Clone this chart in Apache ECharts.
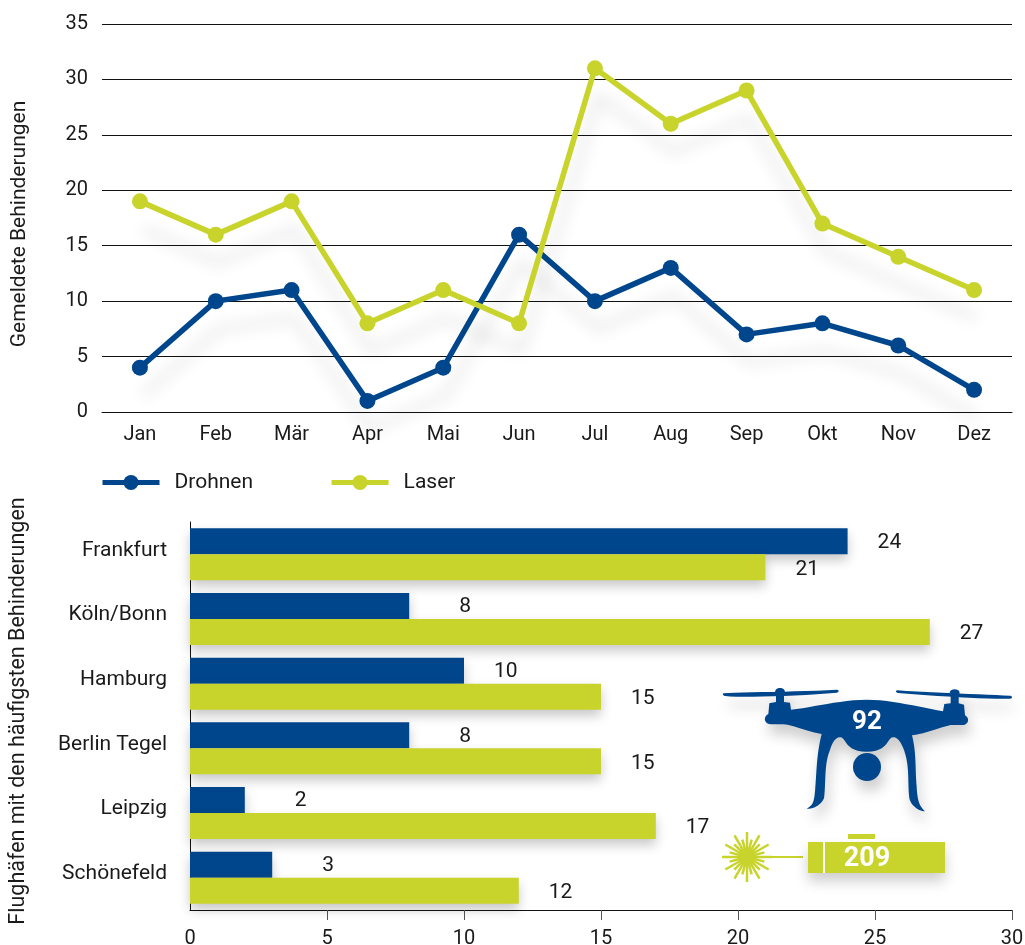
<!DOCTYPE html>
<html>
<head>
<meta charset="utf-8">
<title>Behinderungen</title>
<style>
  html, body { margin: 0; padding: 0; background: #fff; }
  #main { width: 1025px; height: 945px; }
</style>
<script src="https://cdn.jsdelivr.net/npm/echarts@6/dist/echarts.min.js"></script>
</head>
<body>
<div id="main"></div>
<script>
var months = ['Jan', 'Feb', 'Mär', 'Apr', 'Mai', 'Jun', 'Jul', 'Aug', 'Sep', 'Okt', 'Nov', 'Dez'];
var drohnenMonat = [4, 10, 11, 1, 4, 16, 10, 13, 7, 8, 6, 2];
var laserMonat = [19, 16, 19, 8, 11, 8, 31, 26, 29, 17, 14, 11];

var airports = ['Frankfurt', 'Köln/Bonn', 'Hamburg', 'Berlin Tegel', 'Leipzig', 'Schönefeld'];
var drohnenAirport = [24, 8, 10, 8, 2, 3];
var laserAirport = [21, 27, 15, 15, 17, 12];
var airportTicks = [5, 10, 15, 20, 25, 30];

var BLUE = '#00468c';
var GREEN = '#c8d42c';
var FONT = 'Roboto';
var TEXT = '#1a1a1a';

function sum(list) {
  return list.reduce(function (a, b) { return a + b; }, 0);
}

function lineSeries(name, values, color) {
  return {
    name: name,
    type: 'line',
    xAxisIndex: 0,
    yAxisIndex: 0,
    data: values,
    symbol: 'circle',
    symbolSize: 16,
    clip: false,
    itemStyle: { color: color },
    lineStyle: {
      color: color,
      width: 5.5,
      shadowColor: 'rgba(0,0,0,0.12)',
      shadowBlur: 16,
      shadowOffsetX: 3,
      shadowOffsetY: 28
    }
  };
}

function barSeries(name, values, color, labelShift) {
  return {
    name: name,
    type: 'bar',
    xAxisIndex: 1,
    yAxisIndex: 1,
    barGap: 0,
    barCategoryGap: '19.6%',
    // einstellige Werte stehen im Original weiter vom Balken weg
    data: values.map(function (v) {
      return { value: v, label: { distance: v < 10 ? 50 : 30 } };
    }),
    itemStyle: {
      color: color,
      shadowColor: 'rgba(0,0,0,0.22)',
      shadowBlur: 12,
      shadowOffsetX: 0,
      shadowOffsetY: 6
    },
    label: {
      show: true,
      position: 'right',
      offset: [0, labelShift],
      fontFamily: FONT,
      fontSize: 21,
      color: TEXT
    }
  };
}

// Laser-Strahlenkranz, Winkelschritt 15 Grad, abwechselnd lang und kurz
function laserRays(cx, cy) {
  var rays = [];
  for (var i = 0; i < 24; i++) {
    var a = i * Math.PI / 12;
    var r = i % 2 ? 18 : 25;
    rays.push({
      type: 'line',
      shape: {
        x1: cx + Math.cos(a) * 5,
        y1: cy + Math.sin(a) * 5,
        x2: cx + Math.cos(a) * r,
        y2: cy + Math.sin(a) * r
      },
      style: { stroke: GREEN, lineWidth: 2.5 }
    });
  }
  rays.push({
    type: 'circle',
    shape: { cx: cx, cy: cy, r: 9 },
    style: { fill: GREEN }
  });
  return rays;
}

var droneBody = 'M208 100 L228 96 L228 72 C222 66 226 54 240 54 C254 54 258 66 252 72 L252 96 L270 98 L273 119 ' +
  'C340 112 420 90 500 89 C580 90 660 112 729 124 L733 102 L752 100 L752 74 C746 68 750 58 764 58 C778 58 782 68 776 74 ' +
  'L776 100 L792 104 L795 136 C808 142 808 162 790 165 L752 165 C720 172 680 190 636 196 ' +
  'C650 250 645 300 650 350 C652 395 660 410 675 424 C655 424 632 405 628 385 C622 340 630 290 612 240 ' +
  'C605 222 595 200 578 202 C560 205 565 245 500 245 C435 245 440 205 422 202 C405 200 395 222 390 240 ' +
  'C372 280 378 340 372 385 C365 400 345 418 320 416 C340 405 343 395 346 350 C350 300 350 250 365 192 ' +
  'C320 185 280 165 250 163 L212 163 C190 160 190 140 205 132 Z';
var propLeft = 'M70 70 C120 66 300 66 410 59 C418 60 418 66 410 68 C300 78 120 84 76 78 C68 77 67 72 70 70 Z';
var propRight = 'M592 61 C700 68 860 74 930 77 C938 79 938 85 930 86 C860 88 700 78 594 69 C586 67 586 62 592 61 Z';

// graphic kennt keinen path-Typ, daher Kurven zu Polygon aufloesen (Vorlage im Massstab 3:1)
function outline(d) {
  var nums = d.match(/[MLCZ]|-?[\d.]+/g), pts = [], i = 0, cmd;
  while (i < nums.length) {
    cmd = nums[i++];
    if (cmd === 'M' || cmd === 'L') {
      pts.push([+nums[i], +nums[i + 1]]);
      i += 2;
    } else if (cmd === 'C') {
      var p0 = pts[pts.length - 1];
      var c = nums.slice(i, i + 6).map(Number);
      i += 6;
      for (var s = 1; s <= 12; s++) {
        var t = s / 12, u = 1 - t;
        pts.push([
          u * u * u * p0[0] + 3 * u * u * t * c[0] + 3 * u * t * t * c[2] + t * t * t * c[4],
          u * u * u * p0[1] + 3 * u * u * t * c[1] + 3 * u * t * t * c[3] + t * t * t * c[5]
        ]);
      }
    }
  }
  return pts.map(function (p) { return [700 + p[0] / 3, 670 + p[1] / 3]; });
}

var droneShadow = {
  shadowColor: 'rgba(0,0,0,0.2)',
  shadowBlur: 14,
  shadowOffsetX: 3,
  shadowOffsetY: 10
};

function iconShape(d) {
  return {
    type: 'polygon',
    shape: { points: outline(d) },
    style: Object.assign({ fill: BLUE }, droneShadow)
  };
}

var option = {
  animation: false,
  backgroundColor: '#fff',
  textStyle: { fontFamily: FONT, color: TEXT },
  legend: {
    left: 100,
    top: 472,
    padding: 0,
    itemWidth: 57,
    itemHeight: 19,
    itemGap: 76,
    data: ['Drohnen', 'Laser'],
    lineStyle: { width: 5 },
    textStyle: { fontFamily: FONT, fontSize: 21, color: TEXT, padding: [0, 0, 0, 10] }
  },
  grid: [
    { left: 102, right: 13, top: 24, height: 388, outerBoundsMode: 'none' },
    { left: 190, right: 13, top: 522, height: 388, outerBoundsMode: 'none' }
  ],
  xAxis: [
    {
      gridIndex: 0,
      type: 'category',
      data: months,
      axisLine: { lineStyle: { color: '#111', width: 1 } },
      axisTick: {
        length: 10,
        interval: function (i) { return i > 0; },
        lineStyle: { color: '#555' }
      },
      axisLabel: { fontFamily: FONT, fontSize: 20, color: TEXT, margin: 13 }
    },
    {
      gridIndex: 1,
      type: 'value',
      min: 0,
      max: 30,
      interval: 5,
      splitLine: { show: false },
      axisLine: { show: true, onZero: false, lineStyle: { color: '#111', width: 1 } },
      axisTick: { show: true, length: 10, customValues: airportTicks, lineStyle: { color: '#555' } },
      axisLabel: { fontFamily: FONT, fontSize: 20, color: TEXT, margin: 19 }
    }
  ],
  yAxis: [
    {
      gridIndex: 0,
      type: 'value',
      min: 0,
      max: 35,
      interval: 5,
      name: 'Gemeldete Behinderungen',
      nameLocation: 'middle',
      nameGap: 72,
      nameTextStyle: { fontFamily: FONT, fontSize: 21, color: TEXT, padding: [0, 12, 0, 0] },
      axisLine: { show: false },
      axisTick: { show: false },
      splitLine: { lineStyle: { color: '#111', width: 1 } },
      axisLabel: { fontFamily: FONT, fontSize: 20, color: TEXT, margin: 14 }
    },
    {
      gridIndex: 1,
      type: 'category',
      inverse: true,
      data: airports,
      name: 'Flughäfen mit den häufigsten Behinderungen',
      nameLocation: 'middle',
      nameGap: 160,
      nameTextStyle: { fontFamily: FONT, fontSize: 21.5, color: TEXT, padding: [0, 0, 0, 10] },
      axisLine: { lineStyle: { color: '#111', width: 1 } },
      axisTick: { show: false },
      // Beschriftung sitzt im Original etwas ueber der Bandmitte
      axisLabel: { fontFamily: FONT, fontSize: 21, color: TEXT, margin: 23, verticalAlign: 'bottom', lineHeight: 8 }
    }
  ],
  series: [
    lineSeries('Drohnen', drohnenMonat, BLUE),
    lineSeries('Laser', laserMonat, GREEN),
    barSeries('Drohnen', drohnenAirport, BLUE, 1),
    barSeries('Laser', laserAirport, GREEN, 2)
  ],
  graphic: [
    // Drohne
    iconShape(propLeft),
    iconShape(propRight),
    iconShape(droneBody),
    {
      type: 'circle',
      shape: { cx: 867, cy: 767, r: 14 },
      style: Object.assign({ fill: BLUE }, droneShadow)
    },
    {
      type: 'text',
      x: 867,
      y: 722,
      style: {
        text: String(sum(drohnenMonat)),
        fill: '#fff',
        fontFamily: FONT,
        fontWeight: 'bold',
        fontSize: 26,
        align: 'center',
        verticalAlign: 'middle'
      }
    },
    // Laser
    { type: 'group', children: laserRays(747, 857) },
    {
      type: 'rect',
      shape: { x: 765, y: 856, width: 38, height: 2 },
      style: { fill: GREEN }
    },
    {
      type: 'rect',
      shape: { x: 808, y: 842, width: 137, height: 31 },
      style: {
        fill: GREEN,
        shadowColor: 'rgba(0,0,0,0.2)',
        shadowBlur: 14,
        shadowOffsetY: 8
      }
    },
    {
      type: 'rect',
      shape: { x: 823, y: 842, width: 2, height: 31 },
      style: { fill: '#fff' }
    },
    {
      type: 'rect',
      shape: { x: 848, y: 834, width: 27, height: 5 },
      style: { fill: GREEN }
    },
    {
      type: 'text',
      x: 867,
      y: 859,
      style: {
        text: String(sum(laserMonat)),
        fill: '#fff',
        fontFamily: FONT,
        fontWeight: 'bold',
        fontSize: 27,
        align: 'center',
        verticalAlign: 'middle'
      }
    }
  ]
};

var chart = echarts.init(document.getElementById('main'));
chart.setOption(option);
</script>
</body>
</html>
